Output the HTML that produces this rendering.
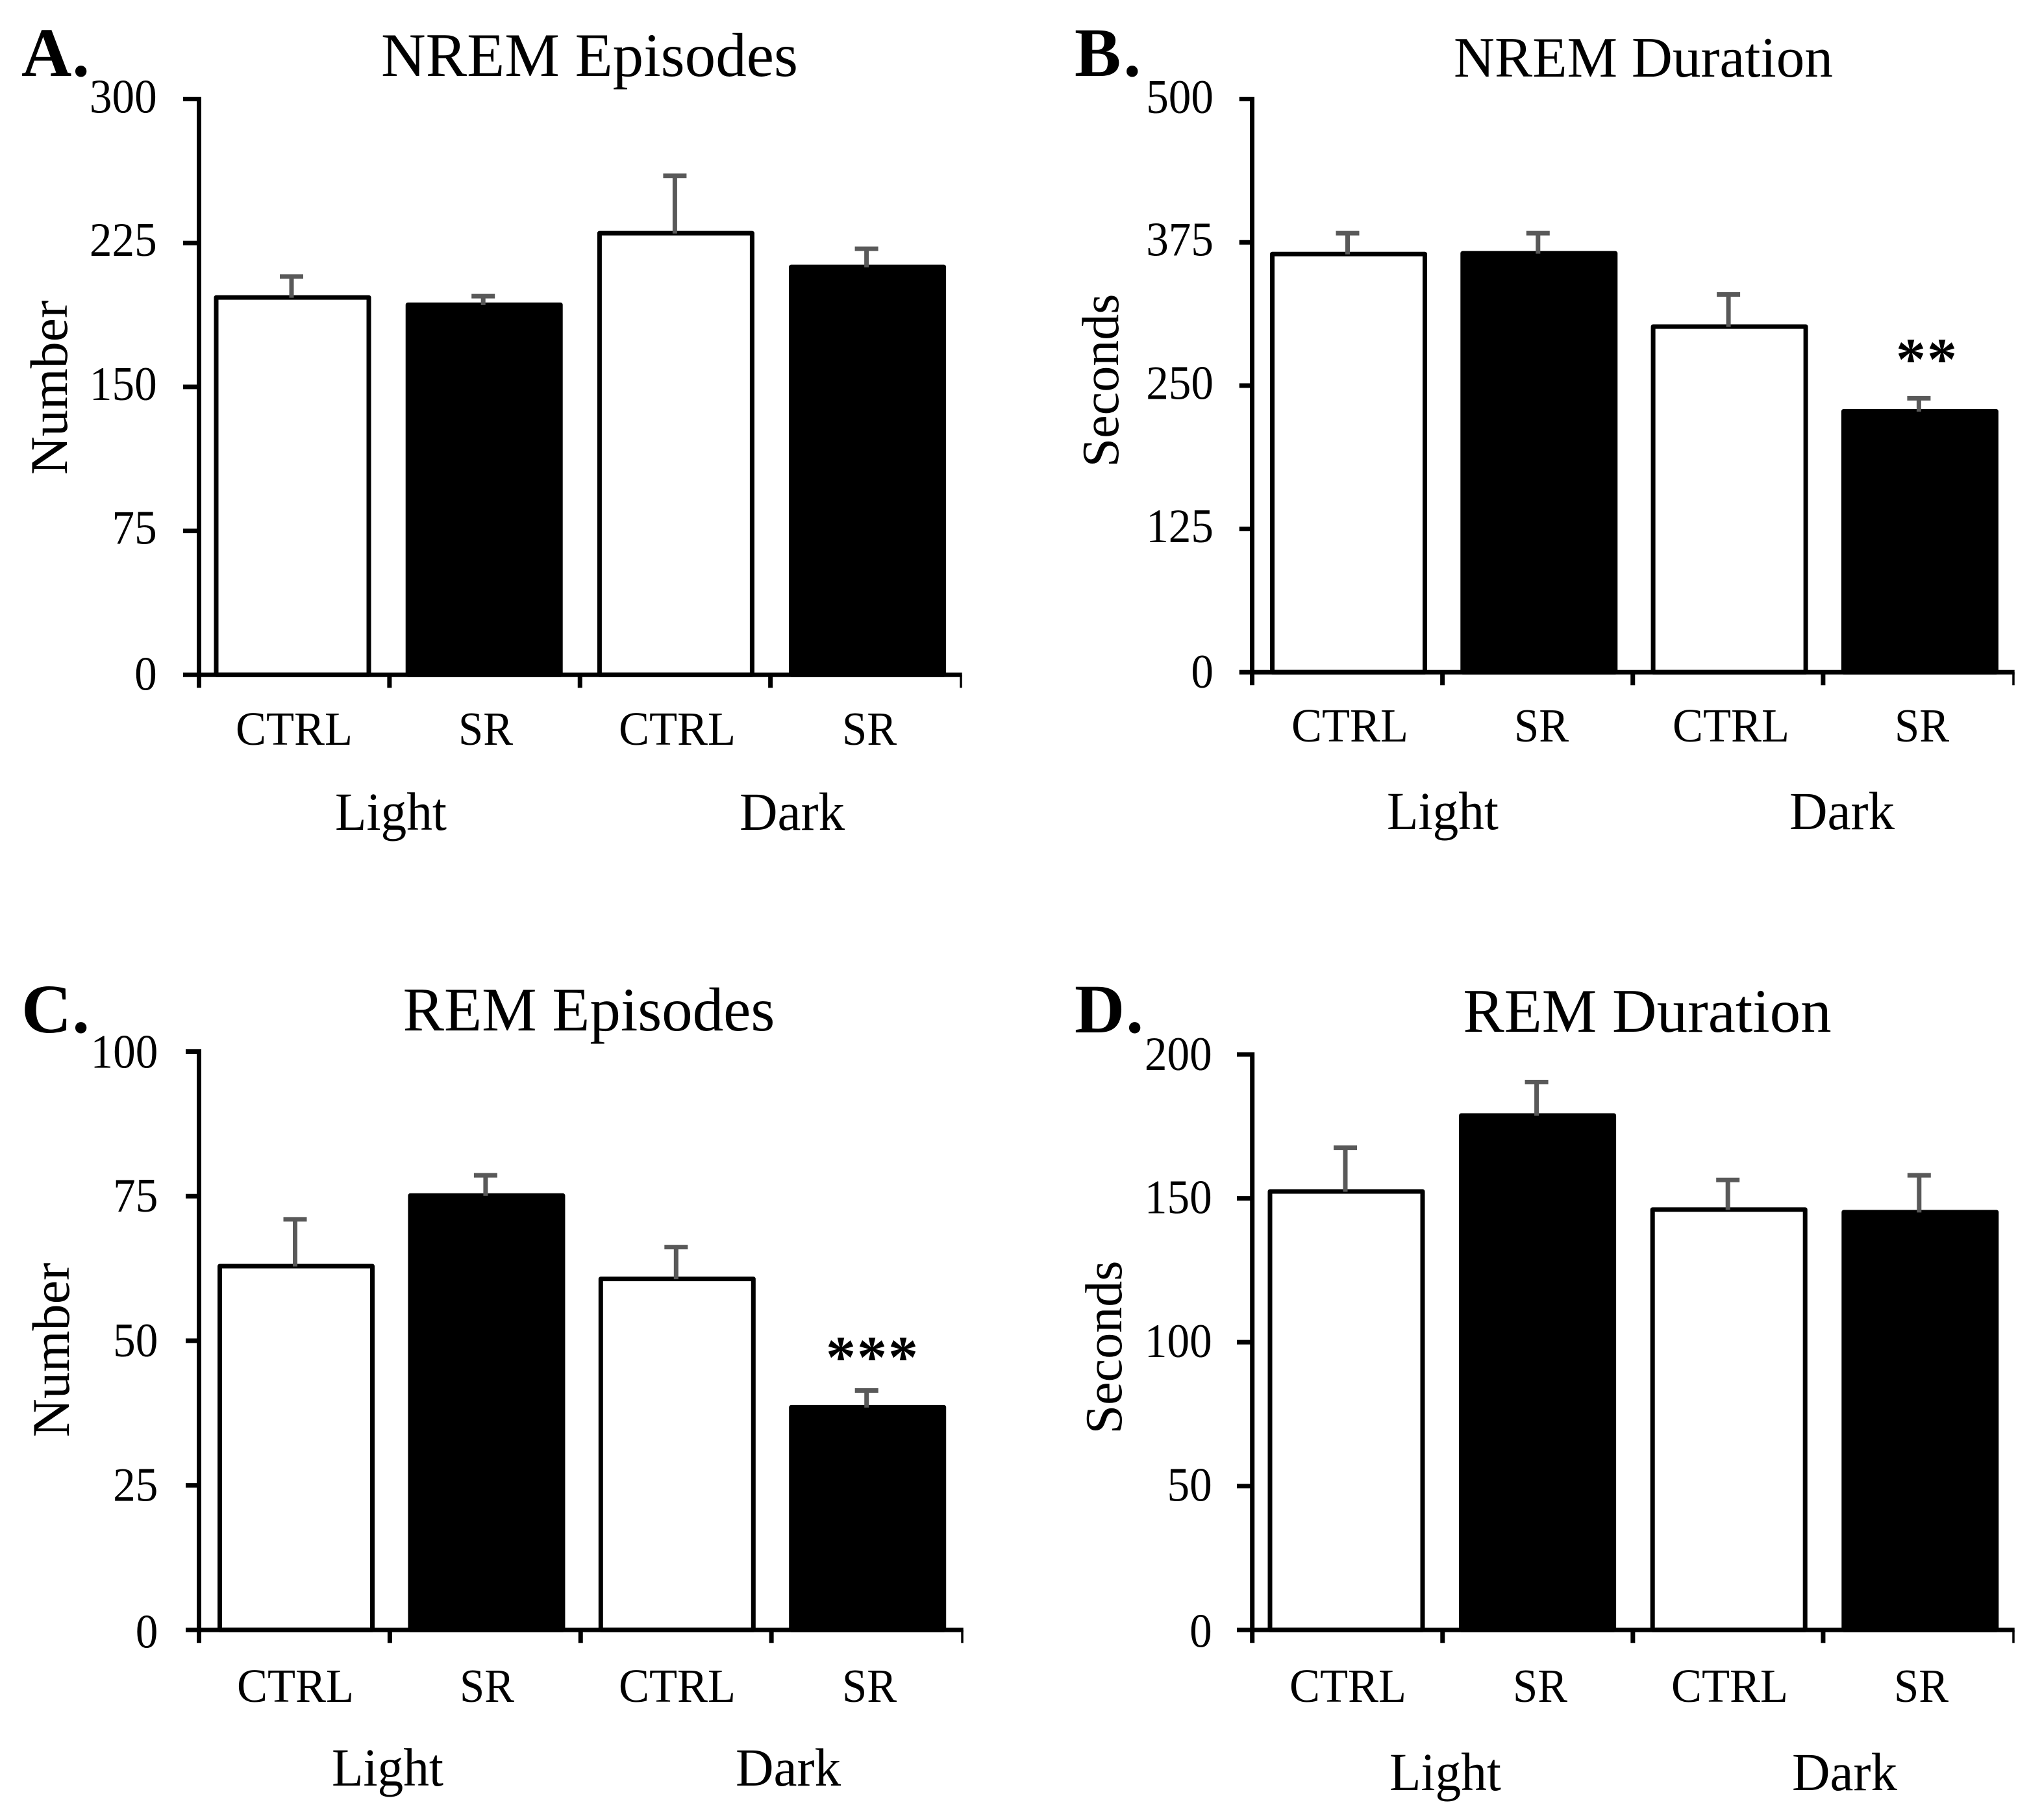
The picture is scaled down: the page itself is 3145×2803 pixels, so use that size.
<!DOCTYPE html>
<html lang="en">
<head>
<meta charset="utf-8">
<title>Sleep episodes and duration</title>
<style>
html,body{margin:0;padding:0;background:#fff;}
svg{display:block;font-family:"Liberation Serif",serif;fill:#000;}
</style>
</head>
<body>
<svg id="figure" xmlns="http://www.w3.org/2000/svg" width="3145" height="2803" viewBox="0 0 3145 2803">
<rect x="0" y="0" width="3145" height="2803" fill="#fff"/>
<g id="marks"></g>

<g font-size="107" font-weight="700">
<text x="33" y="117" letter-spacing="1">A.</text>
<text x="1655" y="117" letter-spacing="4">B.</text>
<text x="33" y="1590" letter-spacing="1">C.</text>
<text x="1655" y="1590" letter-spacing="2">D.</text>
</g>

<text x="908" y="117" font-size="95" text-anchor="middle" textLength="642" lengthAdjust="spacingAndGlyphs">NREM Episodes</text>
<text x="2531" y="118" font-size="88" text-anchor="middle" textLength="584" lengthAdjust="spacingAndGlyphs">NREM Duration</text>
<text x="907" y="1587" font-size="95" text-anchor="middle">REM Episodes</text>
<text x="2537" y="1589" font-size="95" text-anchor="middle">REM Duration</text>

<text transform="translate(103 597) rotate(-90)" font-size="82" text-anchor="middle">Number</text>
<text transform="translate(1722 586) rotate(-90)" font-size="80" text-anchor="middle">Seconds</text>
<text transform="translate(106 2079) rotate(-90)" font-size="82" text-anchor="middle">Number</text>
<text transform="translate(1727 2075) rotate(-90)" font-size="80" text-anchor="middle">Seconds</text>

<g font-size="73" text-anchor="middle">
<text x="453" y="1147" textLength="180" lengthAdjust="spacingAndGlyphs">CTRL</text>
<text x="748" y="1147" textLength="84" lengthAdjust="spacingAndGlyphs">SR</text>
<text x="1043" y="1147" textLength="180" lengthAdjust="spacingAndGlyphs">CTRL</text>
<text x="1339" y="1147" textLength="84" lengthAdjust="spacingAndGlyphs">SR</text>
<text x="2079" y="1142" textLength="180" lengthAdjust="spacingAndGlyphs">CTRL</text>
<text x="2374" y="1142" textLength="84" lengthAdjust="spacingAndGlyphs">SR</text>
<text x="2666" y="1142" textLength="180" lengthAdjust="spacingAndGlyphs">CTRL</text>
<text x="2960" y="1142" textLength="84" lengthAdjust="spacingAndGlyphs">SR</text>
<text x="455" y="2621" textLength="180" lengthAdjust="spacingAndGlyphs">CTRL</text>
<text x="750" y="2621" textLength="84" lengthAdjust="spacingAndGlyphs">SR</text>
<text x="1043" y="2621" textLength="180" lengthAdjust="spacingAndGlyphs">CTRL</text>
<text x="1339" y="2621" textLength="84" lengthAdjust="spacingAndGlyphs">SR</text>
<text x="2076" y="2621" textLength="180" lengthAdjust="spacingAndGlyphs">CTRL</text>
<text x="2372" y="2621" textLength="84" lengthAdjust="spacingAndGlyphs">SR</text>
<text x="2664" y="2621" textLength="180" lengthAdjust="spacingAndGlyphs">CTRL</text>
<text x="2959" y="2621" textLength="84" lengthAdjust="spacingAndGlyphs">SR</text>
</g>

<g font-size="83" text-anchor="middle">
<text x="602" y="1278" textLength="172" lengthAdjust="spacingAndGlyphs">Light</text>
<text x="1220" y="1278" textLength="162" lengthAdjust="spacingAndGlyphs">Dark</text>
<text x="2222" y="1277" textLength="172" lengthAdjust="spacingAndGlyphs">Light</text>
<text x="2837" y="1277" textLength="162" lengthAdjust="spacingAndGlyphs">Dark</text>
<text x="597" y="2750" textLength="172" lengthAdjust="spacingAndGlyphs">Light</text>
<text x="1214" y="2750" textLength="162" lengthAdjust="spacingAndGlyphs">Dark</text>
<text x="2226" y="2757" textLength="172" lengthAdjust="spacingAndGlyphs">Light</text>
<text x="2841" y="2757" textLength="162" lengthAdjust="spacingAndGlyphs">Dark</text>
</g>

<text x="2968" y="584" font-size="92" font-weight="700" letter-spacing="2" text-anchor="middle">**</text>
<text x="1344" y="2121" font-size="92" font-weight="700" letter-spacing="2" text-anchor="middle">***</text>
</svg>

<script>
// Shared category structure
const categories = ["CTRL Light", "SR Light", "CTRL Dark", "SR Dark"];

// Panel A: NREM Episodes (Number)
const nremEpisodesTicks = [0, 75, 150, 225, 300];
const nremEpisodesMeans = [196.6, 192.8, 230.1, 212.5];
const nremEpisodesErrorTops = [207.5, 197.3, 260, 222];

// Panel B: NREM Duration (Seconds)
const nremDurationTicks = [0, 125, 250, 375, 500];
const nremDurationMeans = [364.8, 365.4, 301.5, 227.6];
const nremDurationErrorTops = [383, 383, 329.5, 239];

// Panel C: REM Episodes (Number)
const remEpisodesTicks = [0, 25, 50, 75, 100];
const remEpisodesMeans = [62.9, 75.1, 60.7, 38.5];
const remEpisodesErrorTops = [71, 78.6, 66.2, 41.4];

// Panel D: REM Duration (Seconds)
const remDurationTicks = [0, 50, 100, 150, 200];
const remDurationMeans = [152.4, 178.8, 146.1, 145.2];
const remDurationErrorTops = [167.6, 190.4, 156.4, 158];

const SVG_NS = "http://www.w3.org/2000/svg";
const marks = document.getElementById("marks");

function create(tag, parent, attrs) {
  const el = document.createElementNS(SVG_NS, tag);
  for (const k in attrs) el.setAttribute(k, attrs[k]);
  parent.appendChild(el);
  return el;
}

function drawPanel(cfg) {
  const yMax = cfg.ticks[cfg.ticks.length - 1];
  const yScale = function (v) { return cfg.baseY - (v / yMax) * (cfg.baseY - cfg.topY); };
  const xScale = function (i) { return cfg.firstBar + i * cfg.barStep; };
  const xTickScale = function (i) { return cfg.axisX + (i / categories.length) * (cfg.endX - cfg.axisX); };

  const group = create("g", marks, {});
  
  

  cfg.means.forEach(function (v, i) {
    const isSr = i % 2 === 1;
    const bar = create("rect", group, {
      x: xScale(i) - 117.5,
      y: yScale(v),
      width: 235,
      height: cfg.baseY - yScale(v),
      fill: isSr ? "#000" : "#fff",
      stroke: "#000",
      "stroke-width": 7,
      "stroke-linejoin": "round"
    });
    
    
  });

  cfg.errors.forEach(function (v, i) {
    const cx = xScale(i) - 1.5;
    const stem = create("line", group, {
      x1: cx, x2: cx,
      y1: yScale(v),
      y2: yScale(cfg.means[i]) + 0.5,
      stroke: "#595959",
      "stroke-width": 7
    });
    
    
    const cap = create("line", group, {
      x1: cx - 18, x2: cx + 18,
      y1: yScale(v), y2: yScale(v),
      stroke: "#595959",
      "stroke-width": 7
    });
    
    
  });

  const yAxis = create("line", group, {
    x1: cfg.axisX, x2: cfg.axisX,
    y1: cfg.topY - 3.5, y2: cfg.baseY + 20,
    stroke: "#000", "stroke-width": 7
  });
  
  

  const xAxis = create("line", group, {
    x1: cfg.axisX, x2: cfg.endX + 1.7,
    y1: cfg.baseY, y2: cfg.baseY,
    stroke: "#000", "stroke-width": 7
  });
  
  

  cfg.ticks.forEach(function (t) {
    const y = yScale(t);
    const tick = create("line", group, {
      x1: cfg.tickLeft, x2: cfg.axisX,
      y1: y, y2: y,
      stroke: "#000", "stroke-width": 7
    });
    
    
    const text = String(t);
    const edgeShift = t === 0 ? 3 : (t === yMax ? 1 : 0);
    const label = create("text", group, {
      x: cfg.labelRight,
      y: y + cfg.labelDrop + edgeShift,
      "font-size": 74,
      "text-anchor": "end",
      textLength: text.length * 34.6,
      lengthAdjust: "spacingAndGlyphs"
    });
    label.textContent = text;
    
    
  });

  for (let i = 1; i <= categories.length; i++) {
    const isLast = i === categories.length;
    const x = xTickScale(i);
    const tick = create("line", group, {
      x1: x, x2: x,
      y1: cfg.baseY, y2: cfg.baseY + 20,
      stroke: "#000",
      "stroke-width": isLast ? 3.5 : 7
    });
    
    
  }
}

drawPanel({
  id: "a", ticks: nremEpisodesTicks, means: nremEpisodesMeans, errors: nremEpisodesErrorTops,
  axisX: 306.5, endX: 1480, topY: 152.5, baseY: 1039.3, tickLeft: 282,
  firstBar: 450.5, barStep: 295.2, labelRight: 241.7, labelDrop: 20
});
drawPanel({
  id: "b", ticks: nremDurationTicks, means: nremDurationMeans, errors: nremDurationErrorTops,
  axisX: 1928.5, endX: 3101, topY: 152.5, baseY: 1035.3, tickLeft: 1908.7,
  firstBar: 2077, barStep: 293.3, labelRight: 1869, labelDrop: 20.5
});
drawPanel({
  id: "c", ticks: remEpisodesTicks, means: remEpisodesMeans, errors: remEpisodesErrorTops,
  axisX: 306.5, endX: 1482, topY: 1619.5, baseY: 2510.3, tickLeft: 286,
  firstBar: 456, barStep: 293.4, labelRight: 243.3, labelDrop: 24
});
drawPanel({
  id: "d", ticks: remDurationTicks, means: remDurationMeans, errors: remDurationErrorTops,
  axisX: 1928.7, endX: 3101, topY: 1624, baseY: 2510.3, tickLeft: 1905,
  firstBar: 2073.5, barStep: 294.6, labelRight: 1866.7, labelDrop: 23
});
</script>
</body>
</html>
